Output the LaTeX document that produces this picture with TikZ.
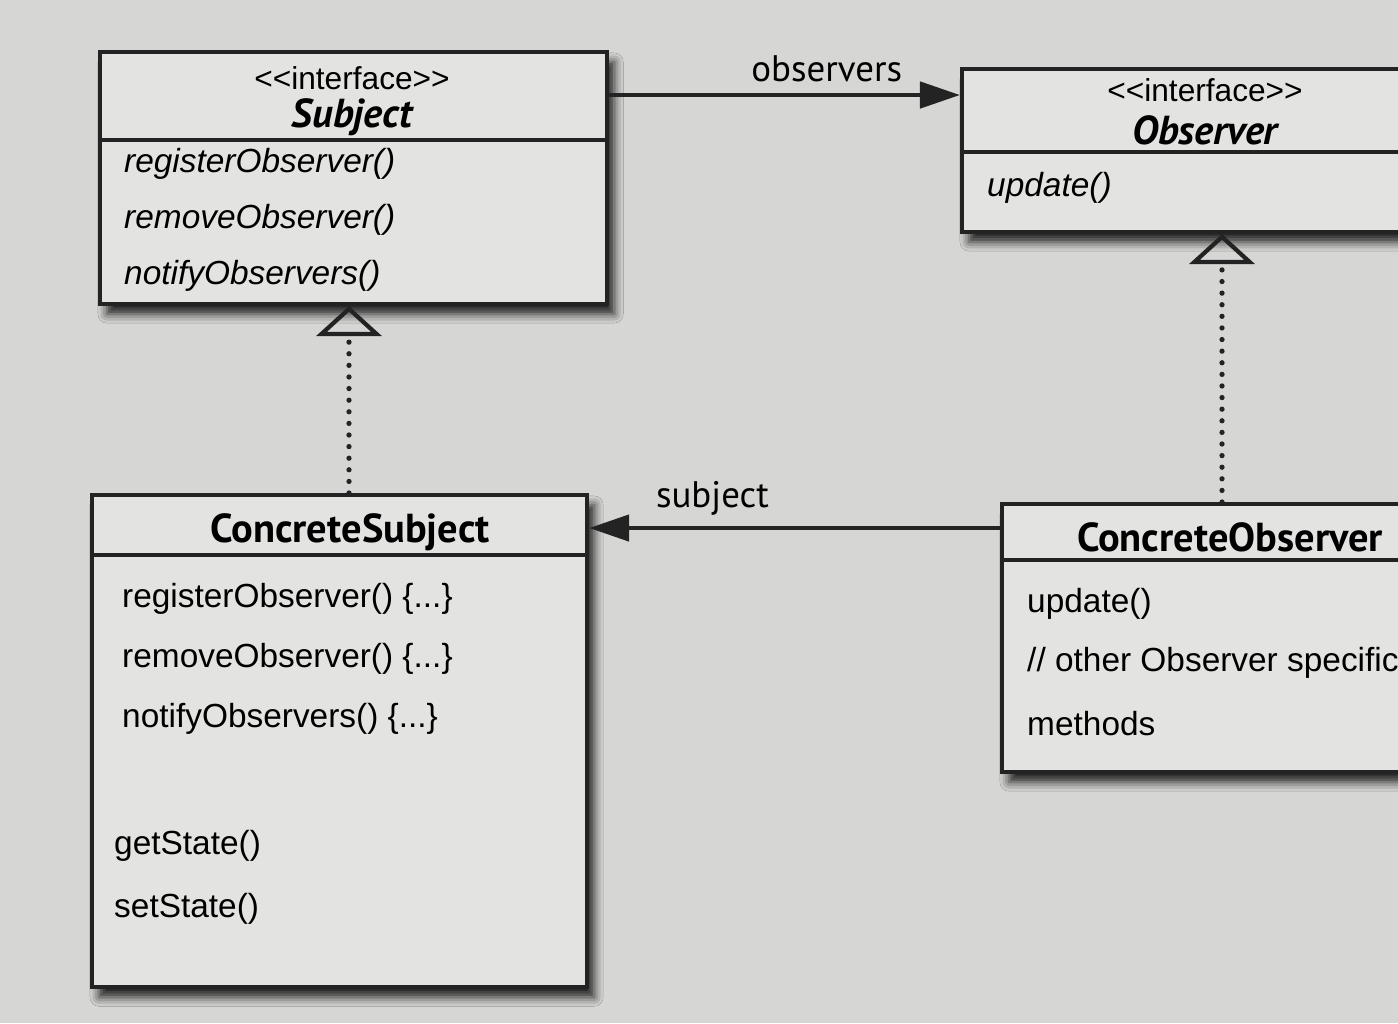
\documentclass[tikz,border=0pt]{standalone}
\usepackage{fontspec}
\setmainfont{Liberation Sans}
\newfontfamily\labelfont{PT Sans}
\usetikzlibrary{positioning, arrows.meta, shadows.blur}

\definecolor{paper}{RGB}{214,214,212}
\definecolor{boxfill}{RGB}{227,227,225}
\definecolor{ink}{RGB}{35,35,35}

\tikzset{
  umlbox/.style={draw=ink, line width=1.1pt, fill=boxfill, rectangle, inner sep=0pt, anchor=north west,
    blur shadow={shadow xshift=0.07cm, shadow yshift=-0.1cm, shadow blur radius=0.09cm,
      shadow blur extra rounding=0pt, shadow opacity=85}},
  divider/.style={draw=ink, line width=1.1pt},
  stereo/.style={font=\fontsize{9}{10}\selectfont, inner sep=1pt},
  ifname/.style={font=\labelfont\bfseries\itshape\fontsize{11.5}{13}\selectfont, inner sep=1pt},
  clname/.style={font=\labelfont\bfseries\fontsize{11.5}{13}\selectfont, inner sep=1pt},
  meth/.style={font=\fontsize{9.5}{11}\selectfont, anchor=west, inner sep=1pt},
  imeth/.style={meth, font=\itshape\fontsize{9.5}{11}\selectfont},
  assoc/.style={draw=ink, line width=1.3pt, -{Triangle[length=0.4cm,width=0.26cm]}},
  realize/.style={draw=ink, line width=1.5pt, line cap=round, dash pattern=on 0pt off 3.3pt,
    -{Triangle[open,length=0.3cm,width=0.65cm,line width=1.2pt]}},
  rolelabel/.style={font=\labelfont\fontsize{10.5}{12}\selectfont, above, inner sep=3pt}
}

\begin{document}
\begin{tikzpicture}[x=0.01cm, y=-0.01cm]
\path[use as bounding box, fill=paper] (0,0) rectangle (1398,1023);
\clip (0,0) rectangle (1398,1023);

% interface Subject
\node[umlbox, minimum width=5.07cm, minimum height=2.52cm] (subject) at (98,50) {};
\draw[divider] (subject.west |- 0,140) -- (subject.east |- 0,140);
\node[stereo] (subjst) at (352,78) {<{}<interface>{}>};
\node[ifname] (subjname) at (352,117) {Subject};
\node[imeth] (sreg) at (120,164) {registerObserver()};
\node[imeth, below=0.56cm of sreg.west, anchor=west] (srem) {removeObserver()};
\node[imeth, below=0.56cm of srem.west, anchor=west] (snot) {notifyObservers()};

% interface Observer
\node[umlbox, minimum width=4.9cm, minimum height=1.63cm] (observer) at (960,67) {};
\draw[divider] (observer.west |- 0,152) -- (observer.east |- 0,152);
\node[stereo] (obsst) at (1205,90) {<{}<interface>{}>};
\node[ifname] (obsname) at (1205,130) {Observer};
\node[imeth] (oupd) at (983,188) {update()};

% ConcreteSubject
\node[umlbox, minimum width=4.95cm, minimum height=4.92cm] (csubject) at (90,493) {};
\draw[divider] (csubject.west |- 0,555) -- (csubject.east |- 0,555);
\node[clname] (csname) at (350,532) {ConcreteSubject};
\node[meth] (creg) at (118,599) {registerObserver() \{...\}};
\node[meth, below=0.6cm of creg.west, anchor=west] (crem) {removeObserver() \{...\}};
\node[meth, below=0.6cm of crem.west, anchor=west] (cnot) {notifyObservers() \{...\}};
\node[meth] (cget) at (110,846) {getState()};
\node[meth, below=0.63cm of cget.west, anchor=west] (cset) {setState()};

% ConcreteObserver
\node[umlbox, minimum width=4.6cm, minimum height=2.68cm] (cobserver) at (1000,502) {};
\draw[divider] (cobserver.west |- 0,560) -- (cobserver.east |- 0,560);
\node[clname] (coname) at (1230,537) {ConcreteObserver};
\node[meth] (coupd) at (1023,604) {update()};
\node[meth, below=0.59cm of coupd.west, anchor=west] (coother) {// other Observer specific};
\node[meth, below=0.6cm of coother.west, anchor=west] (cometh) {methods};

% associations
\draw[assoc] (subject.east |- 0,95) -- (observer.west |- 0,95)
  node[rolelabel, pos=0.62] {observers};
\draw[assoc] (cobserver.west |- 0,528) -- (csubject.east |- 0,528)
  node[rolelabel, pos=0.7] {subject};

% realizations
\draw[realize] (csubject.north -| 349,0) -- (subject.south -| 349,0);
\draw[realize] (cobserver.north -| 1222,0) -- (observer.south -| 1222,0);
\end{tikzpicture}
\end{document}
